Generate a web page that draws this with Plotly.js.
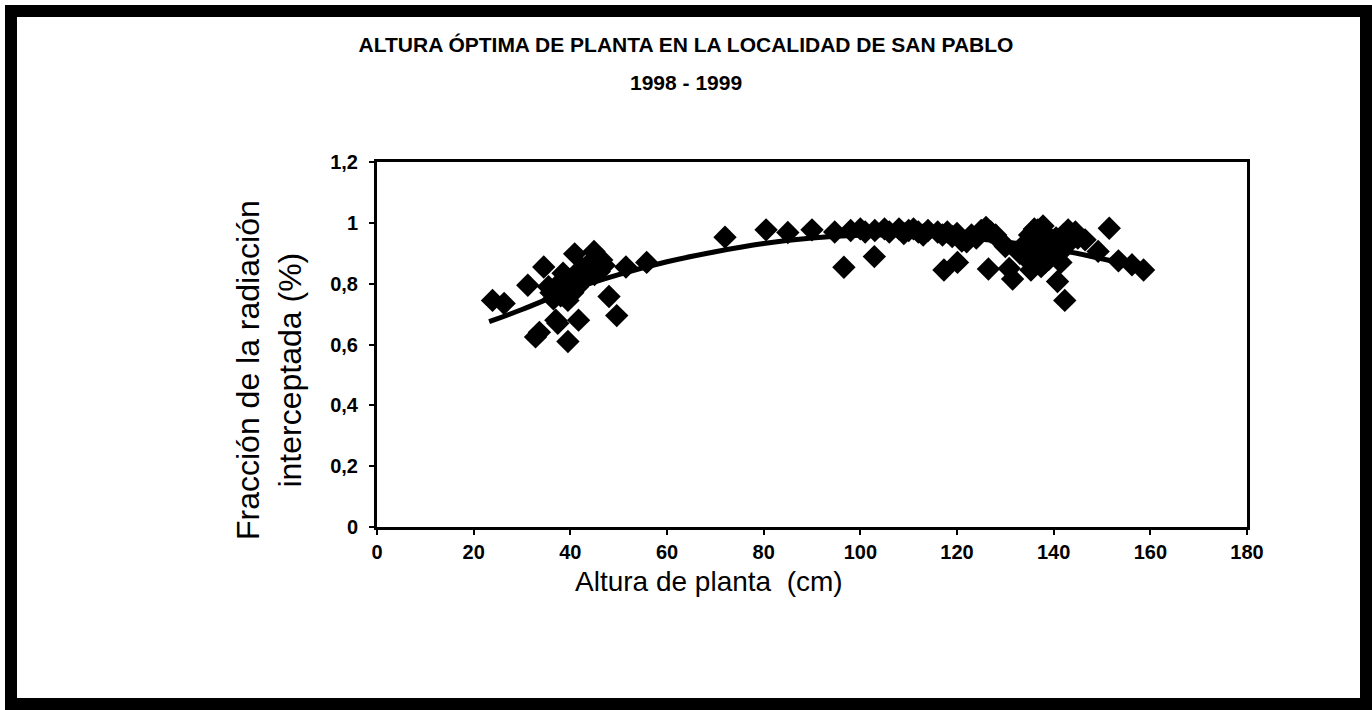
<!DOCTYPE html>
<html>
<head>
<meta charset="utf-8">
<script src="https://cdn.plot.ly/plotly-3.0.1.min.js"></script>
<style>
  html, body { margin: 0; padding: 0; background: #fff; }
  #wrap { position: relative; width: 1372px; height: 710px; overflow: hidden; }
  #chart { position: absolute; left: 0; top: 0; width: 1372px; height: 710px; }
  #frame { position: absolute; left: 5px; top: 5px; width: 1343px; height: 681px; border: 12px solid #000; pointer-events: none; }
</style>
</head>
<body>
<div id="wrap">
  <div id="chart"></div>
  <div id="frame"></div>
</div>
<script>
// Scatter observations: plant height (cm) and intercepted radiation fraction
const alturaCm = [
  23.9, 26.3, 31.2, 34.5, 32.8, 33.6, 37.4, 37.0, 39.5, 41.7, 49.6, 48.0, 40.9, 44.9, 46.5, 38.5,
  36.0, 37.0, 38.0, 38.5, 39.0, 40.0, 40.5, 41.0, 42.0, 42.5, 43.0, 44.0, 45.0, 36.5, 39.5, 41.5, 43.5, 46.0, 47.0, 35.5,
  51.5, 55.8,
  72.0, 80.5, 85.0, 90.0, 94.7, 96.6, 102.9, 98.0, 100.0, 101.0, 103.0, 105.0, 106.0, 108.0, 109.0, 110.0,
  111.0, 112.0, 113.0, 114.0, 116.0, 117.0, 118.0, 119.0, 120.0, 121.0, 122.0, 123.0, 124.0, 125.0, 126.0,
  127.0, 128.0, 129.0, 130.0, 117.3, 120.1, 126.5, 130.8, 131.5,
  133.0, 134.0, 135.0, 135.3, 136.0, 136.7, 137.0, 137.4, 138.0, 138.5, 139.0, 139.5, 140.0, 140.5, 141.0,
  141.5, 142.0, 143.0, 143.5, 144.0, 145.0, 146.5, 140.8, 142.3, 149.2, 151.5, 153.4, 156.2, 158.6,
  134.5, 136.5, 138.2, 139.2, 141.2, 142.6, 144.5, 137.8, 135.8
];
const fraccion = [
  0.745, 0.735, 0.795, 0.855, 0.625, 0.640, 0.670, 0.680, 0.610, 0.680, 0.695, 0.758, 0.898, 0.906, 0.878, 0.834,
  0.770, 0.790, 0.760, 0.800, 0.780, 0.810, 0.770, 0.830, 0.800, 0.850, 0.820, 0.840, 0.830, 0.750, 0.745, 0.790, 0.860, 0.840, 0.860, 0.790,
  0.855, 0.870,
  0.953, 0.977, 0.968, 0.977, 0.970, 0.854, 0.889, 0.975, 0.980, 0.970, 0.975, 0.980, 0.970, 0.980, 0.965, 0.975,
  0.980, 0.970, 0.960, 0.975, 0.970, 0.960, 0.970, 0.955, 0.965, 0.940, 0.938, 0.960, 0.950, 0.975, 0.985,
  0.970, 0.960, 0.940, 0.922, 0.845, 0.870, 0.848, 0.850, 0.815,
  0.900, 0.930, 0.960, 0.845, 0.980, 0.977, 0.940, 0.856, 0.910, 0.960, 0.880, 0.930, 0.900, 0.950, 0.920,
  0.870, 0.960, 0.977, 0.940, 0.960, 0.950, 0.944, 0.807, 0.745, 0.906, 0.982, 0.875, 0.862, 0.845,
  0.880, 0.900, 0.870, 0.950, 0.900, 0.930, 0.970, 0.990, 0.920
];
// Trend curve (polynomial fit)
const trendX = [23.2, 30, 40, 50, 60, 70, 80, 90, 100, 110, 120, 130, 140, 150, 157];
const trendY = [0.675, 0.715, 0.779, 0.830, 0.872, 0.905, 0.932, 0.950, 0.959, 0.960, 0.953, 0.937, 0.914, 0.882, 0.855];
// Axis ticks
const xTicks = [0, 20, 40, 60, 80, 100, 120, 140, 160, 180];
const yTicks = [0, 0.2, 0.4, 0.6, 0.8, 1, 1.2];
// Texts
const titleLine1 = 'ALTURA ÓPTIMA DE PLANTA EN LA LOCALIDAD DE SAN PABLO';
const titleLine2 = '1998 - 1999';
const xTitle = 'Altura de planta  (cm)';
const yTitle = 'Fracción de la radiación<br>interceptada (%)';

const FONT = 'Liberation Sans, Arial, sans-serif';
const tickFont = { family: FONT, size: 20, color: '#000', weight: 'bold' };

const data = [
  {
    type: 'scatter', mode: 'markers', x: alturaCm, y: fraccion,
    marker: { symbol: 'diamond', size: 18, color: '#000', line: { width: 0 } },
    showlegend: false, hoverinfo: 'x+y'
  },
  {
    type: 'scatter', mode: 'lines', x: trendX, y: trendY,
    line: { color: '#000', width: 5, shape: 'spline' },
    showlegend: false, hoverinfo: 'skip'
  }
];

const layout = {
  width: 1372, height: 710,
  paper_bgcolor: '#fff', plot_bgcolor: '#fff',
  separators: ',.',
  margin: { l: 377, r: 125, t: 162, b: 183, pad: 0 },
  title: {
    text: '<b>' + titleLine1 + '</b>',
    font: { family: FONT, size: 21, color: '#000' },
    x: 0.5, xanchor: 'center', xref: 'container',
    y: 1 - 45 / 710, yanchor: 'middle', yref: 'container'
  },
  annotations: [
    { text: '<b>' + titleLine2 + '</b>', xref: 'paper', yref: 'paper',
      x: (686 - 377) / 870, y: (527 - 82) / 365, xanchor: 'center', yanchor: 'middle',
      showarrow: false, font: { family: FONT, size: 21, color: '#000' } },
    { text: xTitle, xref: 'paper', yref: 'paper',
      x: (709 - 377) / 870, y: (527 - 581) / 365, xanchor: 'center', yanchor: 'middle',
      showarrow: false, font: { family: FONT, size: 28, color: '#000' } },
    { text: yTitle, xref: 'paper', yref: 'paper', textangle: -90,
      x: (269 - 377) / 870, y: (527 - 370) / 365, xanchor: 'center', yanchor: 'middle',
      showarrow: false, font: { family: FONT, size: 32, color: '#000' } }
  ],
  xaxis: {
    range: [0, 180], tickvals: xTicks, ticks: 'outside', ticklen: 5, tickwidth: 2, tickcolor: '#000',
    showline: true, linecolor: '#000', linewidth: 3, mirror: true,
    showgrid: false, zeroline: false, tickfont: tickFont
  },
  yaxis: {
    range: [0, 1.2], tickvals: yTicks, ticks: 'outside', ticklen: 5, tickwidth: 2, tickcolor: '#000',
    showline: true, linecolor: '#000', linewidth: 3, mirror: true, ticklabelstandoff: 7,
    showgrid: false, zeroline: false, tickfont: tickFont
  }
};

Plotly.newPlot('chart', data, layout, { displayModeBar: false, staticPlot: true });
</script>
</body>
</html>
